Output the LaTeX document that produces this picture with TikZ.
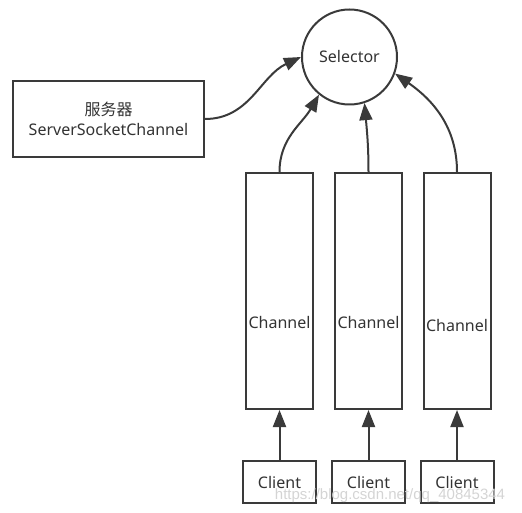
\documentclass[tikz,border=0pt]{standalone}
\usepackage{fontspec}
\setmainfont{Noto Sans}
\newfontfamily\cjk{Noto Sans CJK SC}
\newfontfamily\markfont{Liberation Sans}
\usepackage{tikz}
\usetikzlibrary{arrows.meta,positioning}
\definecolor{linegray}{HTML}{3A3A3A}
\definecolor{textgray}{HTML}{333333}
\definecolor{markgray}{HTML}{D4D4D4}

\begin{document}
\begin{tikzpicture}[x=1pt,y=1pt,
    box/.style={draw=linegray,line width=2pt,text=textgray,font=\fontsize{16}{20}\selectfont,inner sep=0pt},
    chanbox/.style={box,minimum width=67pt,minimum height=236pt},
    clientbox/.style={box,minimum width=73pt,minimum height=42pt},
    chantext/.style={text=textgray,font=\fontsize{16}{18}\selectfont,inner sep=0pt},
    arr/.style={draw=linegray,line width=2pt,-{Triangle[length=17pt,width=13pt]}}]
	  \useasboundingbox (0,0) rectangle (522,-513);
	  % Selector and server
	  \node (sel) [box,circle,minimum size=95pt] at (349.5,-57) {Selector};
	  \node (srv) [box,minimum width=191pt,minimum height=76pt,align=center] at (108.5,-119)
	      {{\cjk 服务器}\\ServerSocketChannel};
	  % Channels
	  \node (ch1) [chanbox,label={[chantext,yshift=-31pt]center:Channel}] at (279.5,-291) {};
	  \node (ch2) [chanbox,label={[chantext,yshift=-31pt]center:Channel}] at (368.5,-291) {};
	  \node (ch3) [chanbox,label={[chantext,yshift=-34pt]center:Channel}] at (457,-291) {};
	  % Clients
	  \node (cl1) [clientbox] at (279.5,-482) {Client};
	  \node (cl2) [clientbox] at (368.5,-482) {Client};
	  \node (cl3) [clientbox] at (457,-482) {Client};
	  % Arrows
	  \draw[arr] (srv.east) to[out=0,in=205] (sel.180);
	  \draw[arr] (ch1.north) to[out=90,in=-120] (sel.231);
	  \draw[arr] (ch2.north) to[out=90,in=-85] (sel.-72);
	  \draw[arr] (ch3.north) to[out=90,in=-35] (sel.-20);
	  \draw[arr] (cl1) -- (ch1);
	  \draw[arr] (cl2) -- (ch2);
	  \draw[arr] (cl3) -- (ch3);
	  % watermark
	  \node (mark) [text=markgray,inner sep=0pt,font=\markfont\fontsize{15}{18}\selectfont] at (390,-496) {https://blog.csdn.net/qq\_40845344};
      \end{tikzpicture}
\end{document}
